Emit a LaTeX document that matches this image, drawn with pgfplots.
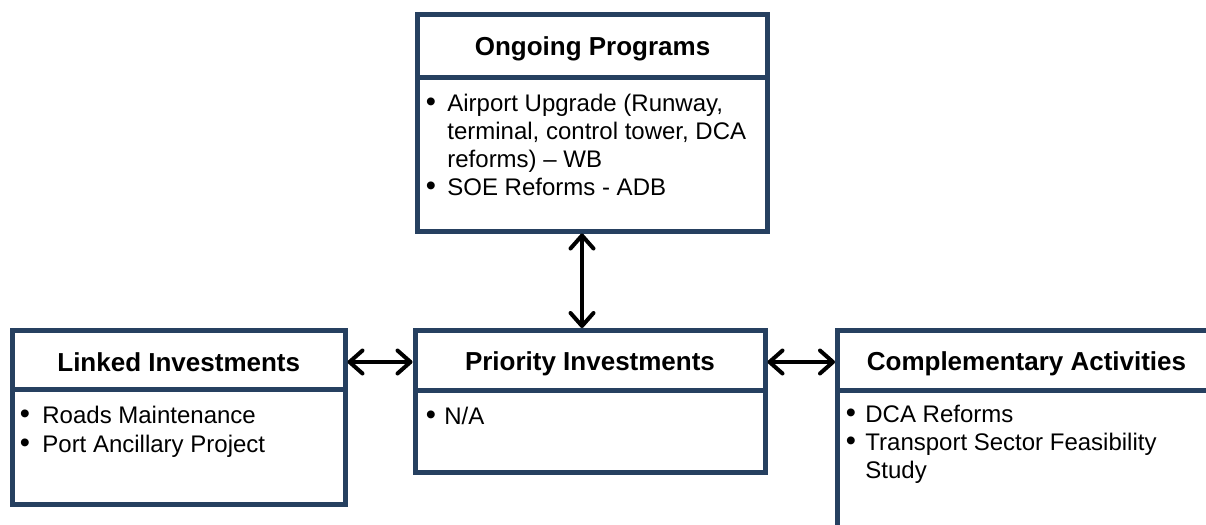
\documentclass[border=0pt]{standalone}
\usepackage{pgfplots}
\pgfplotsset{compat=1.18}
\usepackage{fontspec}
\setmainfont{Liberation Sans}
\usetikzlibrary{arrows.meta}
\definecolor{navy}{RGB}{38,64,96}
\tikzset{
  box/.style={draw=navy, line width=2.5pt, line join=miter},
  hd/.style={inner sep=0pt, anchor=base, font=\fontsize{13}{15}\selectfont\bfseries},
  tx/.style={inner sep=0pt, anchor=base west, font=\fontsize{12}{14}\selectfont},
  bu/.style={inner sep=0pt, anchor=base, font=\fontsize{14.5}{15}\selectfont},
  arr/.style={line width=2pt, {Straight Barb[length=6.5pt,width=11.5pt,round]}-{Straight Barb[length=6.5pt,width=11.5pt,round]}},
}
\begin{document}
\begin{tikzpicture}
\begin{axis}[
  scale only axis, width=603pt, height=262.5pt,
  xmin=0, xmax=1206, ymin=0, ymax=525, y dir=reverse,
  hide axis, clip=false,
]
\coordinate (BL) at (axis cs:0,525);
\coordinate (TR) at (axis cs:1206,0);
% Ongoing Programs
\draw[box] (axis cs:417.5,14.5) rectangle (axis cs:767.5,231);
\draw[box] (axis cs:417.5,77.5) -- (axis cs:767.5,77.5);
\node[hd] at (axis cs:592.5,55) {Ongoing Programs};
\node[bu] at (axis cs:431,111) {•};
\node[tx] at (axis cs:447,111) {Airport Upgrade (Runway,};
\node[tx] at (axis cs:447,139) {terminal, control tower, DCA};
\node[tx] at (axis cs:447,167) {reforms) – WB};
\node[bu] at (axis cs:431,195) {•};
\node[tx] at (axis cs:447,195) {SOE Reforms - ADB};
% Linked Investments
\draw[box] (axis cs:12.5,330.5) rectangle (axis cs:345,504.5);
\draw[box] (axis cs:12.5,389.5) -- (axis cs:345,389.5);
\node[hd] at (axis cs:178.75,371) {Linked Investments};
\node[bu] at (axis cs:25,423) {•};
\node[tx] at (axis cs:42,423) {Roads Maintenance};
\node[bu] at (axis cs:25,452) {•};
\node[tx] at (axis cs:42,452) {Port Ancillary Project};
% Priority Investments
\draw[box] (axis cs:415,330.5) rectangle (axis cs:765,472);
\draw[box] (axis cs:415,390) -- (axis cs:765,390);
\node[hd] at (axis cs:590,370) {Priority Investments};
\node[bu] at (axis cs:431,424) {•};
\node[tx] at (axis cs:444,424) {N/A};
% Complementary Activities
\draw[box] (axis cs:1206,330.5) -- (axis cs:837.5,330.5) -- (axis cs:837.5,525);
\draw[box] (axis cs:837.5,390.5) -- (axis cs:1206,390.5);
\node[hd] at (axis cs:1026.5,370) {Complementary Activities};
\node[bu] at (axis cs:851,422) {•};
\node[tx] at (axis cs:865,422) {DCA Reforms};
\node[bu] at (axis cs:851,450) {•};
\node[tx] at (axis cs:865,450) {Transport Sector Feasibility};
\node[tx] at (axis cs:865,478) {Study};
% Arrows
\draw[arr] (axis cs:582,233.5) -- (axis cs:582,328);
\draw[arr] (axis cs:347.5,362) -- (axis cs:412.5,362);
\draw[arr] (axis cs:767.5,362) -- (axis cs:835,362);
\end{axis}
\pgfresetboundingbox
\useasboundingbox (BL) rectangle (TR);
\end{tikzpicture}
\end{document}
